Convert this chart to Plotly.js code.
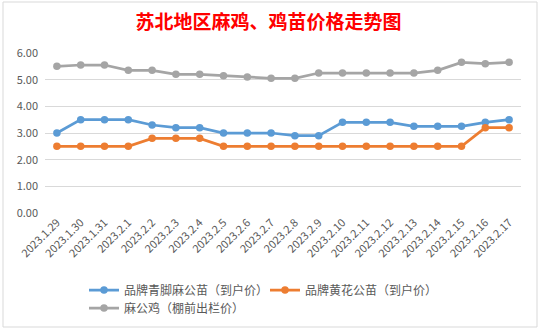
<!DOCTYPE html>
<html>
<head>
<meta charset="utf-8">
<script src="https://cdn.plot.ly/plotly-3.0.1.min.js"></script>
<style>
html,body{margin:0;padding:0;background:#fff;}
#chart{width:539px;height:330px;}
</style>
</head>
<body>
<div id="chart"></div>
<script>
const categories = ["2023.1.29","2023.1.30","2023.1.31","2023.2.1","2023.2.2","2023.2.3","2023.2.4","2023.2.5","2023.2.6","2023.2.7","2023.2.8","2023.2.9","2023.2.10","2023.2.11","2023.2.12","2023.2.13","2023.2.14","2023.2.15","2023.2.16","2023.2.17"];
const seriesNames = ["品牌青脚麻公苗（到户价）","品牌黄花公苗（到户价）","麻公鸡（棚前出栏价）"];
const qingjiao = [3.0,3.5,3.5,3.5,3.3,3.2,3.2,3.0,3.0,3.0,2.9,2.9,3.4,3.4,3.4,3.25,3.25,3.25,3.4,3.5];
const huanghua = [2.5,2.5,2.5,2.5,2.8,2.8,2.8,2.5,2.5,2.5,2.5,2.5,2.5,2.5,2.5,2.5,2.5,2.5,3.2,3.2];
const magongji = [5.5,5.55,5.55,5.35,5.35,5.2,5.2,5.15,5.1,5.05,5.05,5.25,5.25,5.25,5.25,5.25,5.35,5.65,5.6,5.65];
const yTicks = [0,1,2,3,4,5,6];
const yTickText = ["0.00","1.00","2.00","3.00","4.00","5.00","6.00"];
const titleText = "苏北地区麻鸡、鸡苗价格走势图";

const colors = ["#5B9BD5","#ED7D31","#A5A5A5"];
const font = '"Noto Sans CJK SC", "Noto Sans", sans-serif';

function tr(y, i, legend) {
  return {
    type: 'scatter', mode: 'lines+markers',
    x: categories, y: y, name: seriesNames[i],
    line: {color: colors[i], width: 2.75},
    marker: {color: colors[i], size: 7.5},
    legend: legend
  };
}
const data = [tr(qingjiao,0,'legend'), tr(huanghua,1,'legend3'), tr(magongji,2,'legend2')];

function leg(xpx, ypx) {
  return {
    orientation: 'h', xref: 'container', yref: 'container',
    x: xpx/539, xanchor: 'left', y: 1 - ypx/330, yanchor: 'middle',
    font: {size: 12, color: '#595959', family: font},
    bgcolor: 'rgba(0,0,0,0)', borderwidth: 0, itemwidth: 30
  };
}

const layout = {
  width: 539, height: 330,
  margin: {l: 45, r: 18, t: 53, b: 117},
  paper_bgcolor: '#ffffff', plot_bgcolor: '#ffffff',
  font: {family: font, color: '#595959', size: 11},
  title: {
    text: titleText,
    font: {family: font, size: 19, color: '#FF0000', weight: 'bold'},
    x: 268.5/539, xanchor: 'center', xref: 'container',
    y: 1 - 22/330, yanchor: 'middle', yref: 'container'
  },
  xaxis: {
    type: 'category', range: [-0.5, 19.5],
    tickangle: -45, showgrid: false, zeroline: false, showline: false,
    ticks: '', tickfont: {size: 11, color: '#595959', family: font},
    fixedrange: true
  },
  yaxis: {
    range: [0, 6], tickvals: yTicks, ticktext: yTickText,
    showgrid: true, gridcolor: '#D9D9D9', gridwidth: 1,
    zeroline: false, showline: false, ticks: '',
    tickfont: {size: 11, color: '#595959', family: font},
    ticklabelstandoff: 6, fixedrange: true
  },
  showlegend: true,
  legend: leg(84, 290),
  legend3: leg(265, 290),
  legend2: leg(84, 308),
  shapes: [
    {type: 'rect', xref: 'paper', yref: 'paper',
     x0: (3-45)/476, x1: (537-45)/476, y0: (213-327)/160, y1: (213-2)/160,
     line: {color: '#D9D9D9', width: 1}, fillcolor: 'rgba(0,0,0,0)', layer: 'below'}
  ]
};

Plotly.newPlot('chart', data, layout, {displayModeBar: false, staticPlot: true});
</script>
</body>
</html>
